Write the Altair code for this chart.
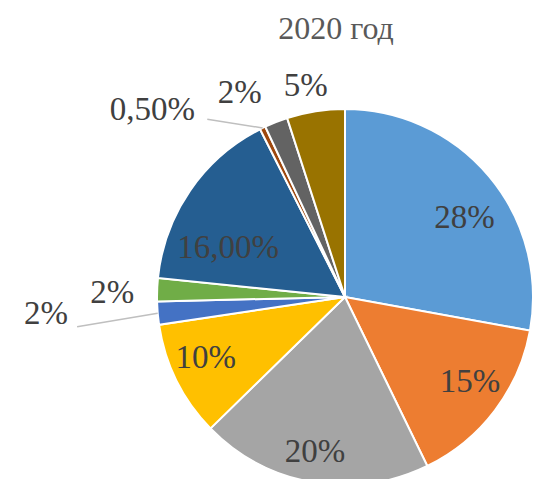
import math
import altair as alt
import pandas as pd

# ---- data ----
title_text = ["2020 год"]
values = [28, 15, 20, 10, 2, 2, 16, 0.5, 2, 5]
labels = ["28%", "15%", "20%", "10%", "2%", "2%", "16,00%", "0,50%", "2%", "5%"]
colors = ["#5B9BD5", "#ED7D31", "#A5A5A5", "#FFC000", "#4472C4",
          "#70AD47", "#255E91", "#9E480E", "#636363", "#997300"]

df = pd.DataFrame({"idx": list(range(len(values))), "value": values, "label": labels})

# ---- layout ----
W, H = 526, 471
CX, CY = 337, 289
R = 188
FONT = "Liberation Serif"
# label placement: (radius, dx, dy) per slice
place = [(144, 9, 13), (153, 3, -7), (158, -3, -1), (151, -4, -6), (299, -1, -9),
         (232, -1, 5), (126, -13, 22), (230, -92, 20), (222, -24, 3), (213, -6, -1)]

total = sum(values)
cum = 0.0
mids = []
for v in values:
    mids.append((cum + v / 2) / total * 2 * math.pi)
    cum += v

base = alt.Chart(df)

pie = base.mark_arc(radius=R, stroke="white", strokeWidth=2).encode(
    theta=alt.Theta("value:Q", stack=True),
    order=alt.Order("idx:Q"),
    color=alt.Color("idx:N", scale=alt.Scale(domain=list(range(len(values))), range=colors), legend=None),
    x=alt.value(CX),
    y=alt.value(CY),
)

layers = [pie]
for i, (r, dx, dy) in enumerate(place):
    layers.append(
        base.mark_text(radius=r, dx=dx, dy=dy, font=FONT, fontSize=33, color="#404040",
                       align="center", baseline="middle").encode(
            theta=alt.Theta("value:Q", stack=True),
            order=alt.Order("idx:Q"),
            text=alt.condition(f"datum.idx == {i}", alt.Text("label:N"), alt.value("")),
            x=alt.value(CX),
            y=alt.value(CY),
        )
    )

# leader lines for two outside labels (from label side to slice edge)
leader_rows = []
for i, (ox, oy) in [(7, (55, 9)), (4, (31, 13))]:
    r, dx, dy = place[i]
    a = mids[i]
    lx = CX + r * math.sin(a) + dx + ox
    ly = CY - r * math.cos(a) + dy + oy
    ex = CX + R * math.sin(a)
    ey = CY - R * math.cos(a)
    leader_rows += [{"g": i, "o": 0, "px": lx, "py": ly}, {"g": i, "o": 1, "px": ex, "py": ey}]
leaders = alt.Chart(pd.DataFrame(leader_rows)).mark_line(color="#BFBFBF", strokeWidth=1.5).encode(
    x=alt.X("px:Q", scale=None),
    y=alt.Y("py:Q", scale=None),
    detail="g:N",
    order="o:Q",
)
layers.append(leaders)

title = alt.Chart(pd.DataFrame({"t": title_text})).mark_text(
    font=FONT, fontSize=32, color="#595959", align="center", baseline="middle"
).encode(text="t:N", x=alt.value(328), y=alt.value(21))
layers.append(title)

chart = alt.layer(*layers).properties(
    width=W, height=H, autosize=alt.AutoSizeParams(type="none"), padding=0
).configure_view(stroke=None)

chart.save("out.html", embed_options={"renderer": "svg", "actions": False})
